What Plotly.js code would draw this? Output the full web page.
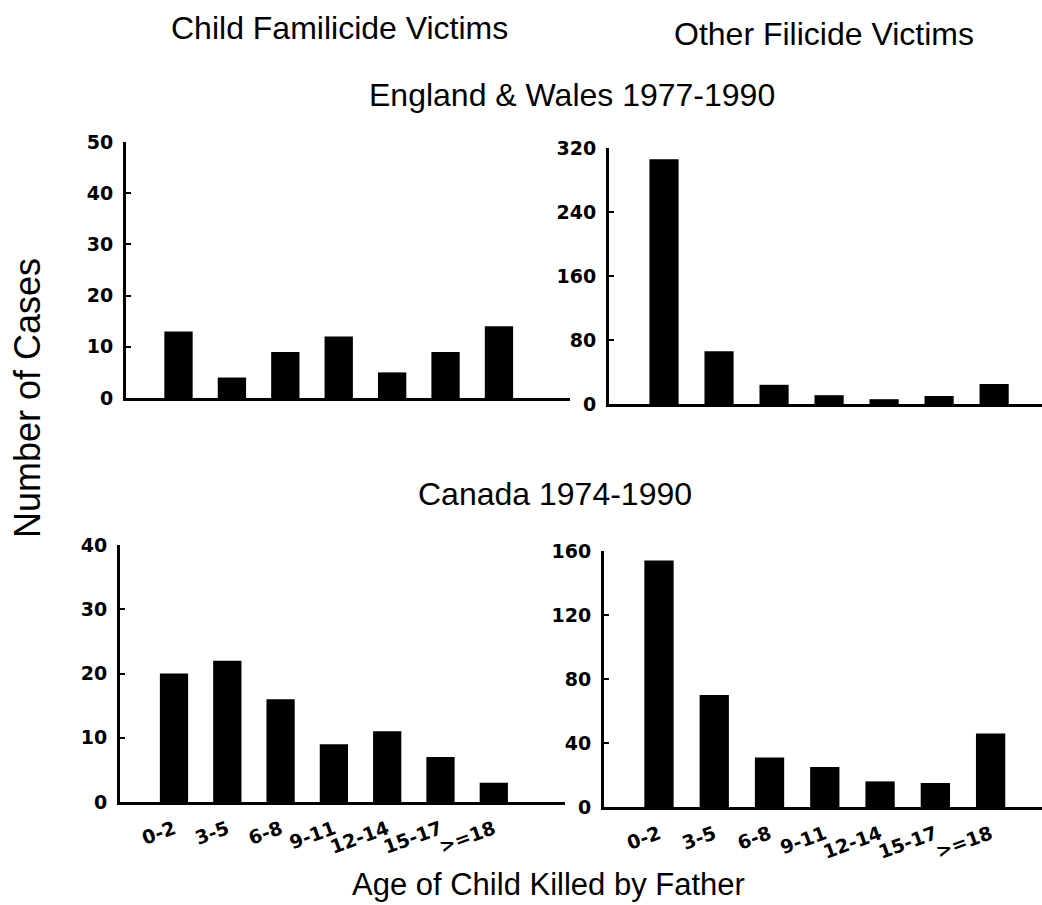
<!DOCTYPE html>
<html>
<head>
<meta charset="utf-8">
<script src="https://cdn.plot.ly/plotly-3.0.1.min.js"></script>
<style>html,body{margin:0;padding:0;background:#fff;}#chart{width:1042px;height:905px;}</style>
</head>
<body>
<div id="chart"></div>
<script>
// Data
const ageGroups = ["0-2", "3-5", "6-8", "9-11", "12-14", "15-17", ">=18"];
const ewFamilicide = [13, 4, 9, 12, 5, 9, 14];
const ewOtherFilicide = [306, 66, 24, 11, 6, 10, 25];
const caFamilicide = [20, 22, 16, 9, 11, 7, 3];
const caOtherFilicide = [154, 70, 31, 25, 16, 15, 46];

const W = 1042, H = 905;
const px = v => v / W;
const py = v => 1 - v / H;
const idx = ageGroups.map((_, i) => i);

function bar(vals, xa, ya) {
  return {type: "bar", x: idx, y: vals, xaxis: xa, yaxis: ya, width: 0.53,
          marker: {color: "#000", line: {width: 0}}, hoverinfo: "y", showlegend: false};
}

const tickFont = {family: "DejaVu Sans, Arial, sans-serif", size: 19, color: "#000", weight: "bold"};
const xTickFont = {family: "DejaVu Sans, Arial, sans-serif", size: 19, color: "#000", weight: "bold"};
const titleFont = {family: "Liberation Sans, Arial, sans-serif", size: 32, color: "#000"};

function xAxis(domain, range, anchor, labels) {
  return {domain: domain, range: range, anchor: anchor, showline: true, linewidth: 3, linecolor: "#000",
          showgrid: false, zeroline: false, ticks: "", fixedrange: true,
          tickmode: "array", tickvals: idx, ticktext: ageGroups, showticklabels: labels,
          tickangle: -20, tickfont: xTickFont, ticklabelstandoff: 6};
}
function yAxis(domain, range, dtick, anchor) {
  return {domain: domain, range: range, anchor: anchor, showline: true, linewidth: 3, linecolor: "#000",
          showgrid: false, zeroline: false, ticks: "inside", ticklen: 5, tickwidth: 2, tickcolor: "#000",
          tick0: 0, dtick: dtick, tickfont: tickFont, ticklabelstandoff: 6, fixedrange: true};
}

const data = [
  bar(ewFamilicide, "x", "y"),
  bar(ewOtherFilicide, "x2", "y2"),
  bar(caFamilicide, "x3", "y3"),
  bar(caOtherFilicide, "x4", "y4")
];

function ann(text, x, y, size, angle) {
  return {text: text, x: px(x), y: py(y), xref: "paper", yref: "paper", showarrow: false,
          xanchor: "center", yanchor: "middle", textangle: angle || 0,
          font: Object.assign({}, titleFont, {size: size})};
}

const layout = {
  width: W, height: H,
  margin: {l: 0, r: 0, t: 0, b: 0},
  paper_bgcolor: "#fff", plot_bgcolor: "rgba(0,0,0,0)",
  bargap: 0.47,
  xaxis: xAxis([px(126), px(570)], [-0.983, 7.33], "y", false),
  yaxis: yAxis([py(398), py(142)], [0, 50], 10, "x"),
  xaxis2: xAxis([px(609), 1], [-1.0, 6.87], "y2", false),
  yaxis2: yAxis([py(404), py(148)], [0, 320], 80, "x2"),
  xaxis3: xAxis([px(120), px(565)], [-1.013, 7.336], "y3", true),
  yaxis3: yAxis([py(802), py(545)], [0, 40], 10, "x3"),
  xaxis4: xAxis([px(604), 1], [-0.995, 6.93], "y4", true),
  yaxis4: yAxis([py(807), py(551)], [0, 160], 40, "x4"),
  annotations: [
    ann("Child Familicide Victims", 339, 28, 32),
    ann("Other Filicide Victims", 824, 34, 32),
    ann("England &amp; Wales 1977-1990", 572, 95, 32),
    ann("Canada 1974-1990", 555, 494, 32),
    ann("Number of Cases", 28, 398, 36, -90),
    ann("Age of Child Killed by Father", 548, 884, 31)
  ]
};

Plotly.newPlot("chart", data, layout, {displayModeBar: false, staticPlot: true});
</script>
</body>
</html>
